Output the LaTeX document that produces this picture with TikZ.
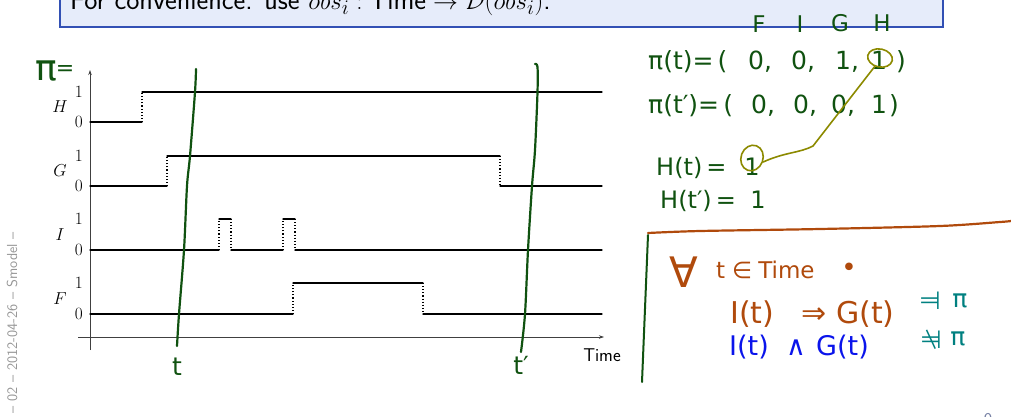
\documentclass[tikz,border=0pt]{standalone}
\usepackage{fontspec}
\usetikzlibrary{shapes.geometric,arrows.meta}
\newfontfamily\hand{DejaVu Sans}
\definecolor{hgreen}{RGB}{16,82,16}
\definecolor{holive}{RGB}{140,138,0}
\definecolor{hbrown}{RGB}{176,74,12}
\definecolor{hblue}{RGB}{10,20,235}
\definecolor{hteal}{RGB}{0,128,128}
\definecolor{bannerfill}{RGB}{230,236,250}
\definecolor{bannerdraw}{RGB}{50,80,180}
\definecolor{sidegray}{RGB}{150,150,150}
\definecolor{pagegray}{RGB}{120,130,165}
\newcommand{\fsz}[1]{\fontsize{#1}{#1}\selectfont}
\tikzset{
  sig/.style={line width=1.1pt, line cap=round},
  trans/.style={line width=1.1pt, dotted},
  axis/.style={line width=0.7pt, draw=black!75},
  lab/.style={inner sep=0pt, font=\fsz{16}},
  hw/.style={inner sep=0pt, text=hgreen, font=\hand\fsz{25}},
  hwb/.style={inner sep=0pt, text=hbrown, font=\hand\fsz{26}},
  hwbl/.style={inner sep=0pt, text=hblue, font=\hand\fsz{27}},
  hwt/.style={inner sep=0pt, text=hteal, font=\hand\fsz{25}},
  stroke/.style={line width=2.2pt, line cap=round, line join=round},
}
\begin{document}
\begin{tikzpicture}[x=1pt,y=-1pt]
\useasboundingbox (0,0) rectangle (1011,416);
% banner
\draw[bannerdraw, fill=bannerfill, line width=1.2pt] (60,-30) rectangle (943,27);
\node[anchor=base west, inner sep=0pt, font=\sffamily\fsz{28}] (banner) at (70,9)
  {For convenience: use $obs_i : \mathsf{Time} \rightarrow \mathcal{D}(obs_i)$.};
% side text
\node[rotate=90, anchor=east, inner sep=0pt, text=sidegray, font=\sffamily\fsz{14.5}] (side) at (12,232)
  {– 02 – 2012-04-26 – Smodel –};
\node[anchor=north, inner sep=0pt, text=pagegray, font=\sffamily\fsz{18}] (page) at (988,413) {9};
% axes
\coordinate (yb) at (90,350); \coordinate (yt) at (90,70);
\coordinate (xl) at (78,337); \coordinate (xr) at (604,337);
\draw[axis, -{Stealth[length=5pt,width=3.5pt]}] (yb) -- (yt);
\draw[axis, -{Stealth[length=5pt,width=3.5pt]}] (xl) -- (xr);
\node[inner sep=0pt, font=\sffamily\fsz{18.5}] (timelab) at (602,355) {Time};
% H
\draw[sig] (90,122) -- (142,122); \draw[trans] (142,122) -- (142,92); \draw[sig] (142,92) -- (602,92);
% G
\draw[sig] (90,186) -- (167,186); \draw[trans] (167,186) -- (167,156); \draw[sig] (167,156) -- (500,156);
\draw[trans] (500,156) -- (500,186); \draw[sig] (500,186) -- (602,186);
% I
\draw[sig] (90,250) -- (219,250); \draw[trans] (219,250) -- (219,219); \draw[sig] (219,219) -- (231,219);
\draw[trans] (231,219) -- (231,250); \draw[sig] (231,250) -- (283,250); \draw[trans] (283,250) -- (283,219);
\draw[sig] (283,219) -- (295,219); \draw[trans] (295,219) -- (295,250); \draw[sig] (295,250) -- (602,250);
% F
\draw[sig] (90,314) -- (293,314); \draw[trans] (293,314) -- (293,283); \draw[sig] (293,283) -- (423,283);
\draw[trans] (423,283) -- (423,314); \draw[sig] (423,314) -- (602,314);
% labels
\foreach \nm/\lo/\hi in {H/122/92, G/186/156, I/250/219, F/314/283}{
  \node[lab, anchor=east] (one\nm) at (83,\hi) {$1$};
  \node[lab, anchor=east] (zero\nm) at (83,\lo) {$0$};
  \node[lab] (var\nm) at (60,{(\lo+\hi)/2}) {$\nm$};
}
% handwritten: pi =
\node[hw, anchor=base west, font=\hand\fsz{36}] (pieq) at (35,80) {π\hspace{-1pt}{\fsz{22}\raisebox{5pt}{=}}};
% t and t' lines
\node[hw] (tlab) at (177,367) {t};
\node[hw] (tplab) at (521,365) {t′};
\draw[hgreen, stroke] plot[smooth] coordinates {(196,69) (195,92) (190,156) (187,186) (184,250) (179,314) (177,346)};
\draw[hgreen, stroke] plot[smooth] coordinates {(535,64) (537.5,67) (537.5,92) (535,150) (532,186) (528,250) (525,314) (521,352)};
% F I G H
\node[hw, font=\hand\fsz{23}] (hF) at (759,24) {F};
\node[hw, font=\hand\fsz{23}] (hI) at (800,24) {I};
\node[hw, font=\hand\fsz{23}] (hG) at (840,23) {G};
\node[hw, font=\hand\fsz{23}] (hH) at (882,23) {H};
% row 1
\node[hw, anchor=base west] (r1a) at (648,69) {π(t)=\,(};
\node[hw, anchor=base west] (r1b) at (748,69) {0,};
\node[hw, anchor=base west] (r1c) at (791,69) {0,};
\node[hw, anchor=base west] (r1d) at (835,69) {1,};
\node[hw, anchor=base] (r1e) at (879,69) {1};
\node[hw, anchor=base west] (r1f) at (896,69) {)};
% row 2
\node[hw, anchor=base west] (r2a) at (648,113) {π(t′)=\,(};
\node[hw, anchor=base west] (r2b) at (751,113) {0,};
\node[hw, anchor=base west] (r2c) at (793,113) {0,};
\node[hw, anchor=base west] (r2d) at (831,113) {0,};
\node[hw, anchor=base west] (r2e) at (871,113) {1};
\node[hw, anchor=base west] (r2f) at (889,113) {)};
% rows 3 and 4
\node[hw, anchor=base west, font=\hand\fsz{24}] (r3a) at (656,175) {H(t)\,=};
\node[hw, anchor=base, font=\hand\fsz{24}] (r3b) at (752,175) {1};
\node[hw, anchor=base west, font=\hand\fsz{24}] (r4a) at (660,208) {H(t′)\,=};
\node[hw, anchor=base, font=\hand\fsz{24}] (r4b) at (758,208) {1};
% olive marks
\node[draw=holive, line width=1.6pt, ellipse, minimum width=25pt, minimum height=18pt, rotate=-12] (c1) at (880,58) {};
\node[draw=holive, line width=1.6pt, ellipse, minimum width=22pt, minimum height=26pt, rotate=-20] (c2) at (752,158) {};
\coordinate (bend) at (813,146);
\draw[holive, line width=1.6pt, line cap=round] (c1.250) -- (bend) .. controls (800,153) and (785,152) .. (c2.east);
% box lines
\draw[hbrown, stroke] plot[smooth] coordinates {(648,233) (700,231) (820,229) (940,226) (1000,222) (1011,221)};
\draw[hgreen, line width=2pt, line cap=round] (648,235) -- (642,382);
% forall line
\node[hwb, font=\hand\fsz{42}] (fa) at (684,272) {∀};
\node[hwb, anchor=base west, font=\hand\fsz{23}] (tin) at (716,278) {t\hspace{7pt}∈\hspace{6pt}Time};
\node[hwb, anchor=base, font=\hand\fsz{26}] (dot) at (849,276) {•};
% implication
\node[hwb, anchor=base west, font=\hand\fsz{30}] (it1) at (730,323) {I(t)};
\node[hwb, anchor=base west, font=\hand\fsz{30}] (imp) at (801,323) {⇒};
\node[hwb, anchor=base west, font=\hand\fsz{30}] (gt1) at (836,323) {G(t)};
\node[hwt] (sat) at (930,301) {\reflectbox{⊨}};
\node[hwt] (pi1) at (960,301) {π};
% conjunction
\node[hwbl, anchor=base west] (it2) at (729,355) {I(t)};
\node[hwbl, anchor=base west] (and) at (786,355) {∧};
\node[hwbl, anchor=base west] (gt2) at (816,355) {G(t)};
\node[hwt] (nsat) at (931,340) {\reflectbox{⊭}};
\node[hwt] (pi2) at (958,339) {π};
\end{tikzpicture}
\end{document}
